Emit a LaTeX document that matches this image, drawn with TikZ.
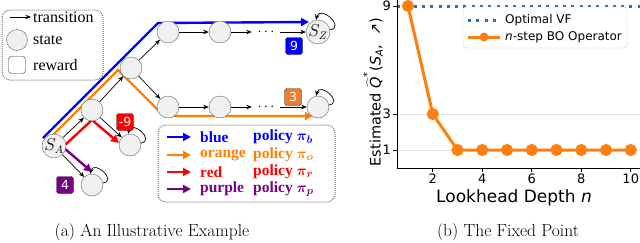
\documentclass[tikz,border=0pt]{standalone}
\usepackage{fontspec}
\usetikzlibrary{arrows.meta}
\newfontfamily\tnr{Liberation Serif}
\newfontfamily\dvs{DejaVu Sans}
\definecolor{pblue}{RGB}{0,0,255}
\definecolor{porange}{RGB}{255,128,0}
\definecolor{boxorange}{RGB}{237,125,49}
\definecolor{pred}{RGB}{255,0,0}
\definecolor{ppurple}{RGB}{120,0,130}
\definecolor{mplblue}{RGB}{31,119,180}
\definecolor{mplorange}{RGB}{255,127,14}
\tikzset{
  state/.style={circle, draw=black!60, fill=black!6, minimum size=22pt, inner sep=0pt},
  rew/.style={rounded corners=2.5pt, draw=black!80, text=white, minimum size=17pt, inner sep=1.5pt, font=\dvs\fontsize{12.5}{12.5}\selectfont},
  trans/.style={-{Stealth[length=5.5pt,width=4.5pt]}, line width=0.7pt},
  pol/.style={line width=2.4pt, -{Triangle[length=8pt,width=8pt]}},
  legbox/.style={draw=black!55, densely dotted, line width=1pt, rounded corners=8pt},
  txt/.style={anchor=west, inner sep=0pt, font=\tnr\fontsize{16}{18}\selectfont},
  btxt/.style={anchor=west, inner sep=0pt, font=\tnr\bfseries\fontsize{15.5}{17}\selectfont},
  tick/.style={font=\dvs\fontsize{13}{13}\selectfont, inner sep=0pt},
}
\begin{document}
\begin{tikzpicture}[x=1pt, y=1pt]
  \useasboundingbox (0,0) rectangle (640,242);
  % (a) an illustrative example
  \draw[legbox] (2,232) rectangle (103,162);
  \coordinate (lt1) at (10,225);
  \coordinate (lt2) at (31,225);
  \draw[trans] (lt1) -- (lt2);
  \node[txt] (ltrans) at (33,225) {transition};
  \node[state, minimum size=21pt] (lstate) at (17,202) {};
  \node[txt] (lstatet) at (33,202) {state};
  \node[draw=black!80, rounded corners=3pt, minimum size=17pt] (lrew) at (17,177) {};
  \node[txt] (lrewt) at (33,177) {reward};
  % policies
  \draw[pol, pblue] (43,104) -- (158,219) -- (309,220);
  \draw[pol, porange] (52,106) -- (118,172) -- (164,126) -- (313,126);
  \draw[pol, pred] (65,97) -- (92,122) -- (119,99);
  \draw[pol, ppurple] (64,94) -- (92,70);
  % states
  \node[state] (sa) at (54,96) {\fontsize{16}{16}\selectfont$S_A$};
  \node[state] (b1) at (92,132) {};
  \node[state] (b2) at (131,174) {};
  \node[state] (t1) at (168,210) {};
  \node[state] (t2) at (220,210) {};
  \node[minimum width=28pt, inner sep=0pt] (tdots) at (266,210) {\fontsize{14}{14}\selectfont$\cdots$};
  \node[state] (sz) at (318,210) {\fontsize{16}{16}\selectfont$S_Z$};
  \node[state] (l1) at (168,135) {};
  \node[state] (l2) at (220,135) {};
  \node[minimum width=28pt, inner sep=0pt] (ldots) at (266,135) {\fontsize{14}{14}\selectfont$\cdots$};
  \node[state] (lz) at (318,135) {};
  \node[state] (rr) at (130,97) {};
  \node[state] (pp) at (92,57) {};
  % transitions
  \draw[trans] (sa) -- (b1);
  \draw[trans] (b1) -- (b2);
  \draw[trans] (b2) -- (t1);
  \draw[trans] (b2) -- (l1);
  \draw[trans] (t1) -- (t2);
  \draw[trans] (t2) -- (tdots);
  \draw[trans] (tdots) -- (sz);
  \draw[trans] (l1) -- (l2);
  \draw[trans] (l2) -- (ldots);
  \draw[trans] (ldots) -- (lz);
  \draw[trans] (b1) -- (rr);
  \draw[trans] (sa) -- (pp);
  \draw[trans] (sz.10) to[out=10, in=75, looseness=2.4] (sz.100);
  \draw[trans] (lz.10) to[out=10, in=75, looseness=2.4] (lz.100);
  \draw[trans] (rr.10) to[out=10, in=75, looseness=2.4] (rr.100);
  \draw[trans] (pp.10) to[out=10, in=75, looseness=2.4] (pp.100);
  % rewards
  \node[rew, fill=pblue] (r9) at (294,196) {9};
  \node[rew, fill=boxorange] (r3) at (293,145) {3};
  \node[rew, fill=pred] (rm9) at (125,120) {-9};
  \node[rew, fill=ppurple] (r4) at (65,57) {4};
  % policy legend
  \draw[legbox] (158,117) rectangle (335,40);
  \draw[pol, pblue] (167,105) -- (191,105);
  \node[btxt, text=pblue] (lb1) at (200,105) {blue};
  \node[btxt, text=pblue] (lb2) at (253,105) {policy {\boldmath$\pi_b$}};
  \draw[pol, porange] (167,87) -- (191,87);
  \node[btxt, text=porange] (lo1) at (200,87) {orange};
  \node[btxt, text=porange] (lo2) at (253,87) {policy {\boldmath$\pi_o$}};
  \draw[pol, pred] (167,70) -- (191,70);
  \node[btxt, text=pred] (lr1) at (200,70) {red};
  \node[btxt, text=pred] (lr2) at (253,70) {policy {\boldmath$\pi_r$}};
  \draw[pol, ppurple] (167,53) -- (191,53);
  \node[btxt, text=ppurple] (lp1) at (200,53) {purple};
  \node[btxt, text=ppurple] (lp2) at (253,53) {policy {\boldmath$\pi_p$}};
  \node[font=\fontsize{17.5}{17.5}\selectfont] (capa) at (152,10) {(a) An Illustrative Example};
  % (b) the fixed point
  \draw[black!12, line width=0.6pt] (397,92) -- (640,92);
  \draw[black!12, line width=0.6pt] (397,128) -- (640,128);
  \draw[mplblue, line width=3pt, dash pattern=on 3pt off 5.3pt] (397,236) -- (640,236);
  \draw[mplorange, line width=3pt, mark=*, mark size=4.5pt] plot coordinates {(408,236) (432.75,128) (457.5,92) (482.25,92) (507,92) (531.75,92) (556.5,92) (581.25,92) (606,92) (630.75,92)};
  \draw[line width=0.9pt] (397,242) -- (397,74) -- (640,74);
  \draw[line width=0.8pt] (397,236) -- (393,236) (397,128) -- (393,128) (397,92) -- (393,92);
  \draw[line width=0.8pt] (432.75,74) -- (432.75,70) (482.25,74) -- (482.25,70) (531.75,74) -- (531.75,70) (581.25,74) -- (581.25,70) (630.75,74) -- (630.75,70);
  \node[tick, anchor=east] (y9) at (391,236) {9};
  \node[tick, anchor=east] (y3) at (391,128) {3};
  \node[tick, anchor=east] (y1) at (391,92) {1};
  \node[tick] (x2) at (432.75,63) {2};
  \node[tick] (x4) at (482.25,63) {4};
  \node[tick] (x6) at (531.75,63) {6};
  \node[tick] (x8) at (581.25,63) {8};
  \node[tick] (x10) at (630.75,63) {10};
  \node[font=\dvs\fontsize{17}{17}\selectfont] (xlab) at (514,44) {Lookhead Depth \textit{n}};
  \node[font=\dvs\fontsize{14.5}{14.5}\selectfont, rotate=90] (ylab) at (373,150)
    {Estimated $\widehat{\mbox{\dvs\itshape Q}}^{\mbox{\dvs\fontsize{10}{10}\selectfont *}}$(\textit{S}$_{\mbox{\dvs\itshape\fontsize{10}{10}\selectfont A}}$,\ \ ↗)};
  \draw[black!20, fill=white, rounded corners=3pt] (463,235) rectangle (627,194);
  \draw[mplblue, line width=3pt, dash pattern=on 3pt off 5.3pt] (468,222) -- (500,222);
  \node[font=\dvs\fontsize{12}{12}\selectfont, anchor=west, inner sep=0pt] (lg1) at (505,222) {Optimal VF};
  \draw[mplorange, line width=3pt] (468,205) -- (500,205);
  \fill[mplorange] (484,205) circle (4.5pt);
  \node[font=\dvs\fontsize{12}{12}\selectfont, anchor=west, inner sep=0pt] (lg2) at (505,205) {\textit{n}-step BO Operator};
  \node[font=\fontsize{17.5}{17.5}\selectfont] (capb) at (508,10) {(b) The Fixed Point};
\end{tikzpicture}
\end{document}
